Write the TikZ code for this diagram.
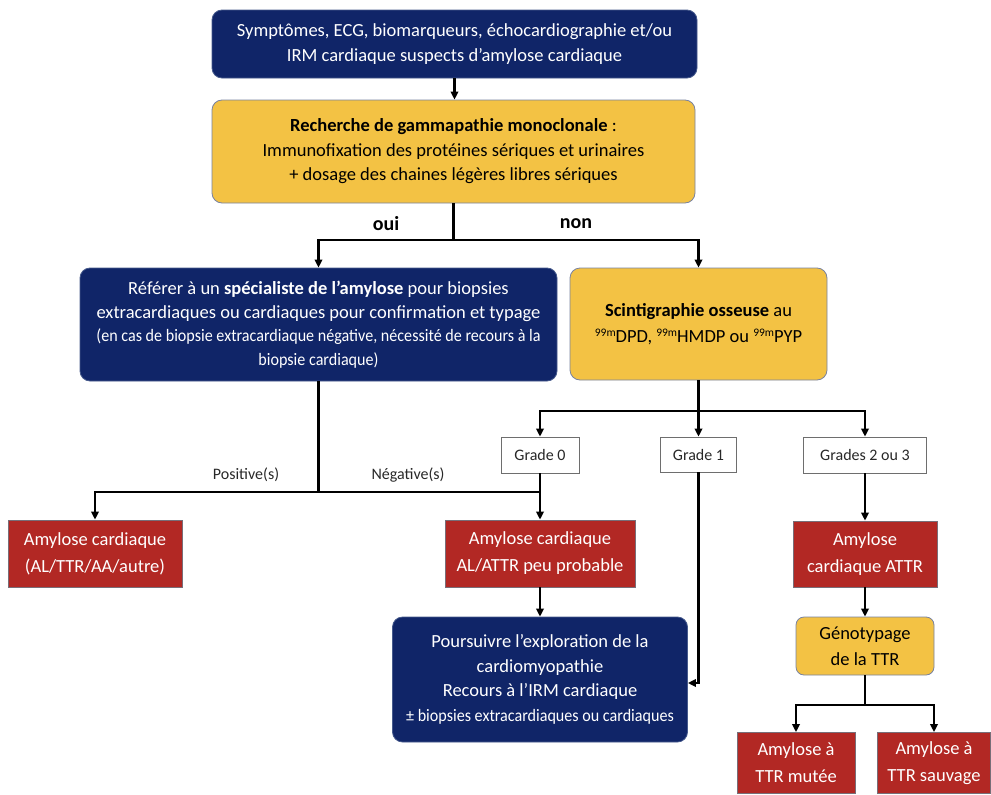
\documentclass[tikz,border=0pt]{standalone}
\usepackage{fontspec}
\setmainfont{Carlito}
\newfontfamily\condfont[FakeStretch=0.92]{Carlito}
\usetikzlibrary{arrows.meta}
\definecolor{navy}{RGB}{16,37,104}
\definecolor{navyedge}{RGB}{70,90,140}
\definecolor{redf}{RGB}{178,40,36}
\definecolor{rededge}{RGB}{120,110,120}
\definecolor{yelf}{RGB}{243,194,68}
\definecolor{yeledge}{RGB}{120,130,160}
\definecolor{gradeedge}{RGB}{110,110,110}
\definecolor{gtext}{RGB}{40,40,40}
\tikzset{
  basebox/.style={inner sep=0pt, align=center, line width=0.8pt},
  navybox/.style={basebox, fill=navy, draw=navyedge, rounded corners=10pt, text=white},
  redbox/.style={basebox, fill=redf, draw=rededge, text=white},
  yelbox/.style={basebox, fill=yelf, draw=yeledge, rounded corners=10pt, text=black},
  gradebox/.style={basebox, fill=white, draw=gradeedge, text=gtext, font=\fontsize{16}{18}\selectfont},
  conn/.style={line width=2.1pt, black},
  arr/.style={conn, -{Triangle[length=8pt,width=7.5pt]}},
  lbl/.style={font=\fontsize{16}{18}\selectfont, text=gtext},
  bl/.style={font=\bfseries\fontsize{20}{22}\selectfont, text=black},
  big/.style={font=\fontsize{18.5}{25}\selectfont},
}
\begin{document}
\begin{tikzpicture}[x=1pt,y=-1pt]
\useasboundingbox (0,0) rectangle (991,795);

\node[navybox, big, minimum width=485pt, minimum height=68pt] (top) at (454.5,44)
  {Symptômes, ECG, biomarqueurs, échocardiographie et/ou\\IRM cardiaque suspects d’amylose cardiaque};

\node[yelbox, font=\fontsize{18.5}{24.5}\selectfont, minimum width=483pt, minimum height=103pt] (yel) at (453.5,151.5)
  {\textbf{Recherche de gammapathie monoclonale} :\\Immunofixation des protéines sériques et urinaires\\+ dosage des chaines légères libres sériques};

\node[navybox, font=\fontsize{18.5}{23.5}\selectfont, minimum width=477pt, minimum height=113pt] (left) at (318.5,324.5)
  {Référer à un \textbf{spécialiste de l’amylose} pour biopsies\\
   extracardiaques ou cardiaques pour confirmation et typage\\
   {\condfont\fontsize{17.5}{23.5}\selectfont (en cas de biopsie extracardiaque négative, nécessité de recours à la}\\
   {\condfont\fontsize{17.5}{23.5}\selectfont biopsie cardiaque)}};

\node[yelbox, font=\fontsize{18.5}{26}\selectfont, minimum width=257pt, minimum height=112pt] (scint) at (698.5,324)
  {\textbf{Scintigraphie osseuse} au\\{\fontsize{11.5}{12}\selectfont\raisebox{0.5em}{99m}}DPD, {\fontsize{11.5}{12}\selectfont\raisebox{0.5em}{99m}}HMDP ou {\fontsize{11.5}{12}\selectfont\raisebox{0.5em}{99m}}PYP};

\node[gradebox, minimum width=78pt, minimum height=36pt] (g0) at (540,455) {Grade 0};
\node[gradebox, minimum width=76pt, minimum height=35pt] (g1) at (698.5,454.5) {Grade 1};
\node[gradebox, minimum width=123pt, minimum height=36pt] (g23) at (865,455) {Grades 2 ou 3};

\node[redbox, font=\fontsize{18.5}{27}\selectfont, minimum width=174pt, minimum height=67pt] (red1) at (95,553.5)
  {Amylose cardiaque\\(AL/TTR/AA/autre)};
\node[redbox, font=\fontsize{18.5}{27}\selectfont, minimum width=190pt, minimum height=67pt] (red2) at (540,553.5)
  {Amylose cardiaque\\AL/ATTR peu probable};
\node[redbox, font=\fontsize{18.5}{27}\selectfont, minimum width=144pt, minimum height=66pt] (attr) at (865,554)
  {Amylose\\cardiaque ATTR};

\node[navybox, font=\fontsize{18.5}{24.5}\selectfont, minimum width=295pt, minimum height=125pt] (blue2) at (540,679.5)
  {Poursuivre l’exploration de la\\
   cardiomyopathie\\
   Recours à l’IRM cardiaque\\
   {\condfont\fontsize{17.5}{23}\selectfont ± biopsies extracardiaques ou cardiaques}};

\node[yelbox, font=\fontsize{18.5}{26}\selectfont, minimum width=138pt, minimum height=58pt, rounded corners=8pt] (geno) at (865,646)
  {Génotypage\\de la TTR};

\node[redbox, font=\fontsize{18.5}{27}\selectfont, minimum width=118pt, minimum height=61pt] (mut) at (796,763)
  {Amylose à\\TTR mutée};
\node[redbox, font=\fontsize{18.5}{27}\selectfont, minimum width=113pt, minimum height=61pt] (sauv) at (934,763)
  {Amylose à\\TTR sauvage};

% labels
\node[bl] (oui) at (386,224) {oui};
\node[bl] (non) at (576,224) {non};
\node[lbl] (pos) at (246,475) {Positive(s)};
\node[lbl] (neg) at (408,475) {Négative(s)};

% connectors
\draw[arr] (top.south) -- (top.south |- yel.north);

\coordinate (j1) at (453.5,240);
\draw[conn] (yel.south) -- (j1);
\draw[arr] (j1) -| (left.north);
\draw[arr] (j1) -| (scint.north);

\coordinate (j2) at (698.5,411);
\draw[conn] (scint.south) -- (j2);
\draw[arr] (j2) -| (g0.north);
\draw[arr] (j2) -- (g1.north);
\draw[arr] (j2) -| (g23.north);

\coordinate (j3) at (318.5,492);
\coordinate (j3b) at (540,492);
\draw[conn] (left.south) -- (j3);
\draw[conn] (g0.south) -- (j3b);
\draw[conn] (j3) -- (j3b);
\draw[arr] (j3) -| (red1.north);
\draw[arr] (j3b) -- (red2.north);

\draw[arr] (red2.south) -- (blue2.north);

\coordinate (c1) at (698.5,683);
\draw[arr] (g1.south) -- (c1) -- (c1 -| blue2.east);

\draw[arr] (g23.south) -- (attr.north);
\draw[arr] (attr.south) -- (geno.north);

\coordinate (j4) at (865,705);
\draw[conn] (geno.south) -- (j4);
\draw[arr] (j4) -| (mut.north);
\draw[arr] (j4) -| (sauv.north);
\end{tikzpicture}
\end{document}
